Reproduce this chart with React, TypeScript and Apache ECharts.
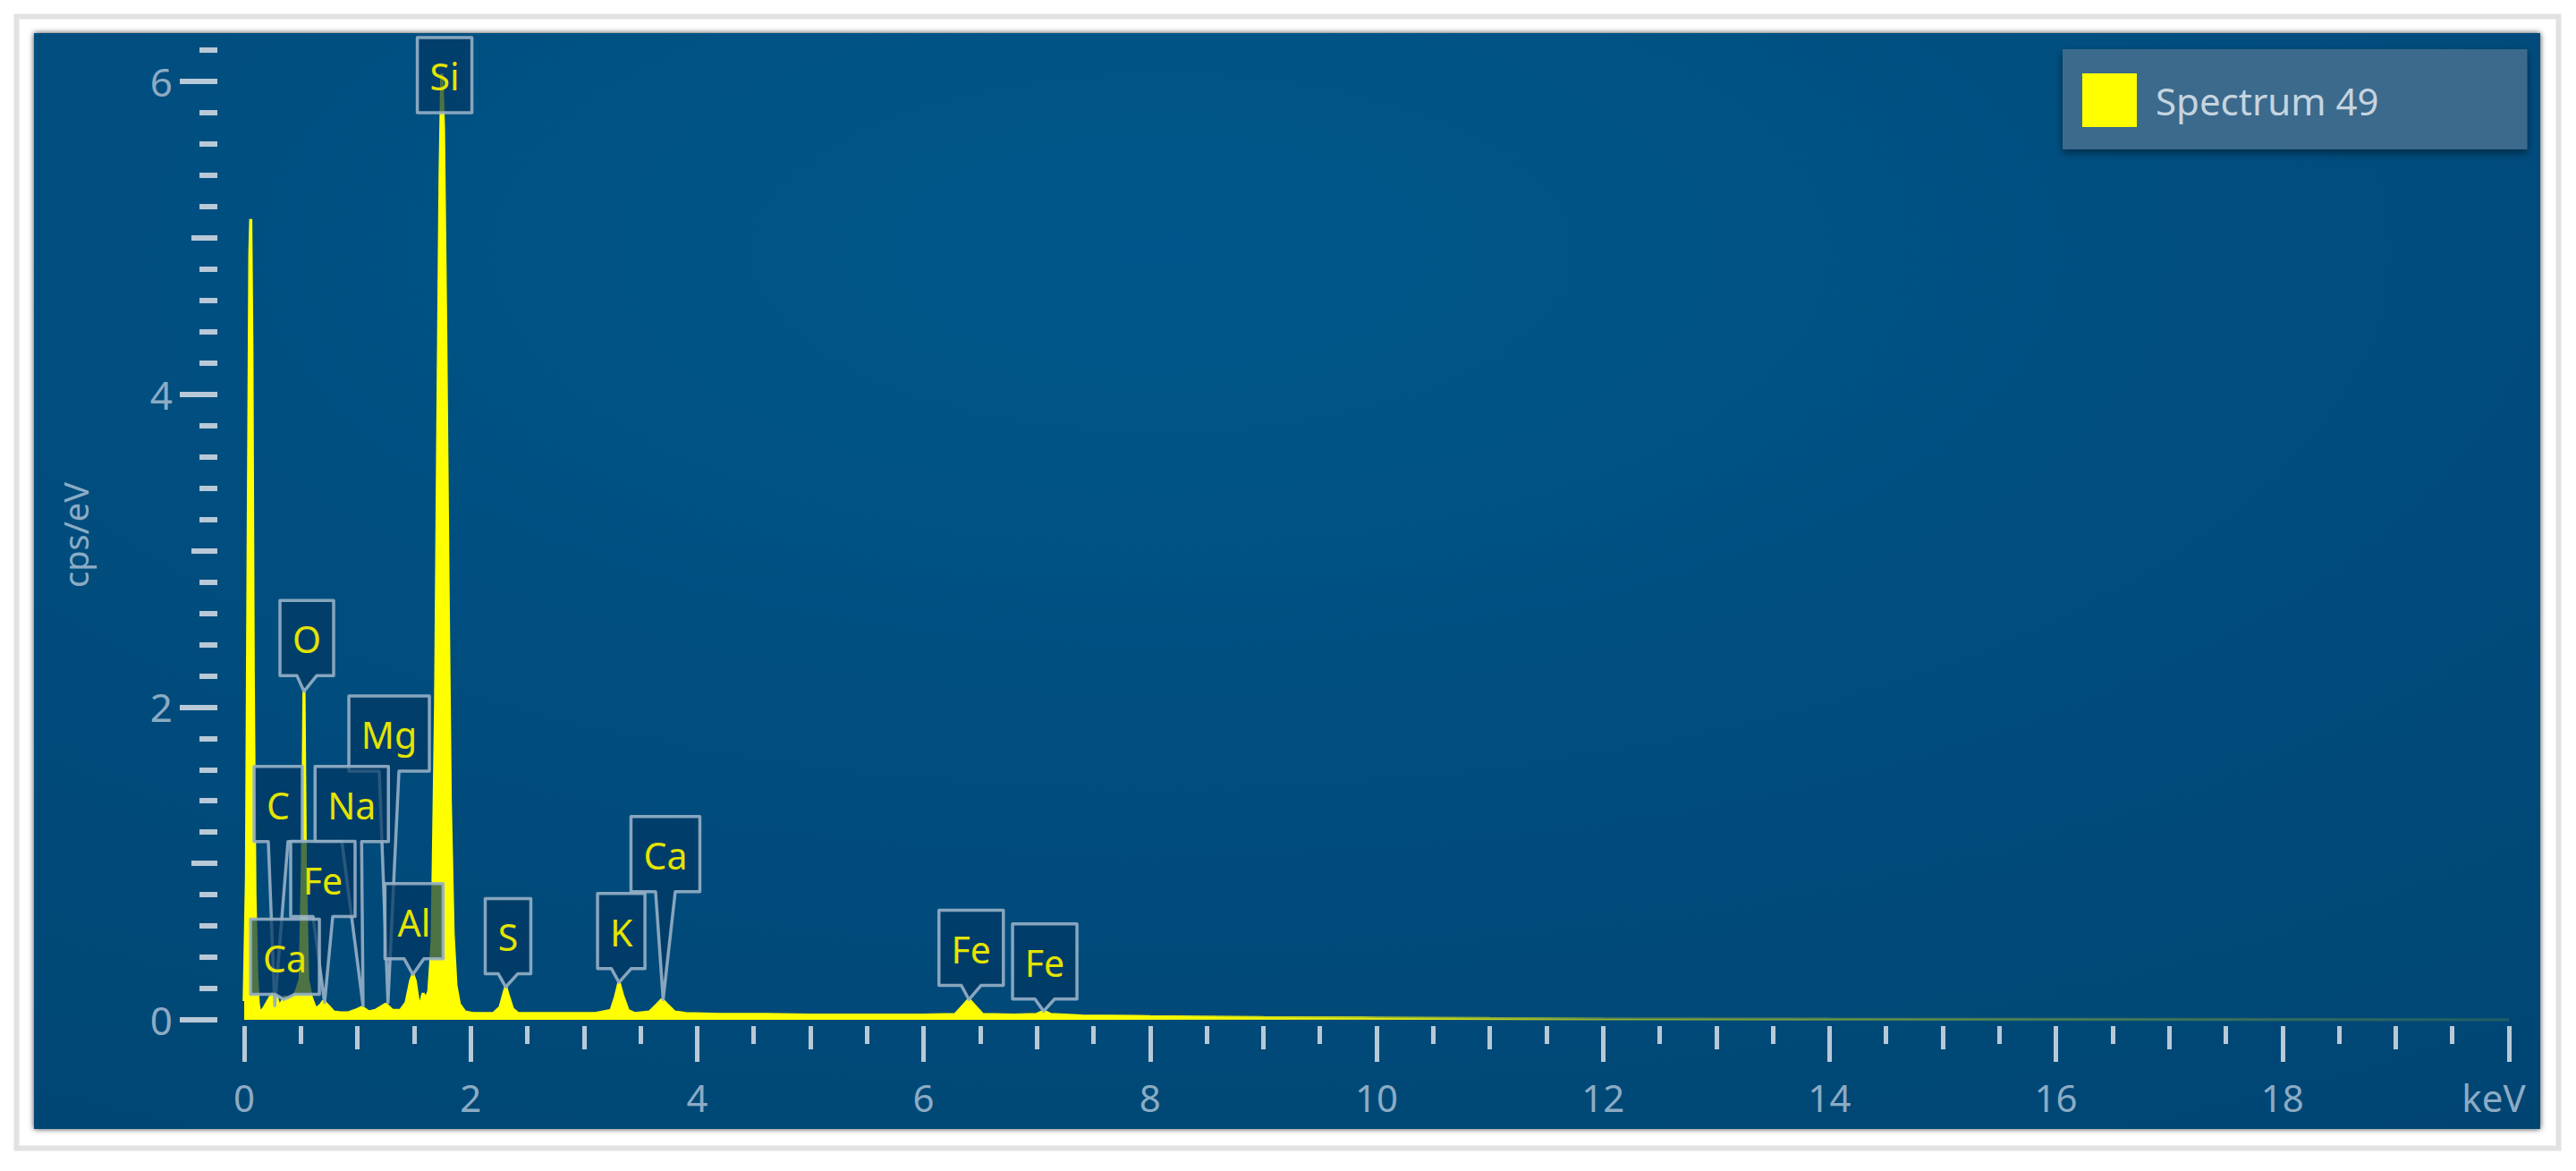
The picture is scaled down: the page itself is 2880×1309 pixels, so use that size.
import React, { useEffect, useRef } from "react";
import * as echarts from "echarts";

// ---- Spectrum (energy in keV, intensity in cps/eV) ----
const energyKeV = [
  0.0, 0.02, 0.035, 0.05, 0.058, 0.068, 0.08, 0.095, 0.11, 0.125, 0.14, 0.17, 0.21, 0.25, 0.28,
  0.31, 0.33, 0.36, 0.39, 0.42, 0.46, 0.495, 0.515, 0.528, 0.54, 0.56, 0.59, 0.63, 0.67, 0.7,
  0.74, 0.79, 0.85, 0.92, 0.98, 1.04, 1.1, 1.16, 1.25, 1.31, 1.38, 1.43, 1.47, 1.49, 1.51,
  1.54, 1.56, 1.58, 1.6, 1.63, 1.66, 1.69, 1.71, 1.73, 1.745, 1.76, 1.78, 1.8, 1.82, 1.845,
  1.87, 1.9, 1.95, 2.02, 2.2, 2.26, 2.29, 2.31, 2.33, 2.37, 2.42, 2.6, 2.9, 3.1, 3.24,
  3.28, 3.31, 3.34, 3.39, 3.45, 3.58, 3.65, 3.69, 3.73, 3.8, 3.9, 4.2, 4.6, 5.0, 5.5,
  6.0, 6.28, 6.35, 6.4, 6.45, 6.52, 6.8, 7.0, 7.06, 7.12, 7.4, 8.0, 9.0, 10.0, 11.0,
  12.0, 14.0, 16.0, 18.0, 20.0,
];
const countsCps = [
  0.12, 0.9, 3.0, 4.9, 5.12, 4.3, 2.2, 0.8, 0.3, 0.1, 0.04, 0.07, 0.12, 0.17, 0.16,
  0.08, 0.11, 0.15, 0.12, 0.14, 0.18, 0.26, 1.0, 2.1, 1.0, 0.26, 0.15, 0.07, 0.09, 0.12,
  0.09, 0.05, 0.045, 0.045, 0.06, 0.08, 0.05, 0.06, 0.1, 0.06, 0.06, 0.11, 0.25, 0.29, 0.25,
  0.1, 0.11, 0.17, 0.13, 0.18, 0.5, 2.0, 3.8, 5.4, 6.05, 5.7, 4.4, 2.8, 1.4, 0.55,
  0.22, 0.1, 0.05, 0.04, 0.04, 0.08, 0.16, 0.21, 0.16, 0.07, 0.04, 0.04, 0.04, 0.04, 0.06,
  0.15, 0.24, 0.16, 0.06, 0.04, 0.05, 0.1, 0.13, 0.1, 0.05, 0.04, 0.035, 0.035, 0.03, 0.03,
  0.03, 0.035, 0.09, 0.13, 0.09, 0.035, 0.03, 0.035, 0.055, 0.035, 0.025, 0.02, 0.015, 0.012, 0.008,
  0.006, 0.004, 0.003, 0.002, 0.0,
];

// ---- Peak labels: element, peak position (tip) and label anchor (box bottom centre) ----
const peakNames = ["Si", "O", "Mg", "C", "Na", "Fe", "Ca", "Al", "S", "K", "Ca", "Fe", "Fe"];
const peakEnergy = [1.745, 0.528, 1.27, 0.27, 1.05, 0.71, 0.35, 1.49, 2.31, 3.31, 3.7, 6.4, 7.06];
const peakHeight = [6.05, 2.1, 0.11, 0.09, 0.09, 0.11, 0.13, 0.29, 0.21, 0.24, 0.13, 0.13, 0.055];
const labelEnergy = [1.77, 0.553, 1.28, 0.3, 0.95, 0.695, 0.36, 1.5, 2.33, 3.33, 3.72, 6.42, 7.07];
const labelBase = [5.8, 2.2, 1.59, 1.14, 1.14, 0.66, 0.163, 0.39, 0.295, 0.327, 0.82, 0.22, 0.133];

// ---- Axis ticks ----
const xMajorTicks = [0, 2, 4, 6, 8, 10, 12, 14, 16, 18, 20];
const xMidTicks = [1, 3, 5, 7, 9, 11, 13, 15, 17, 19];
const xMinorTicks = [0.5, 1.5, 2.5, 3.5, 4.5, 5.5, 6.5, 7.5, 8.5, 9.5, 10.5, 11.5, 12.5, 13.5, 14.5, 15.5, 16.5, 17.5, 18.5, 19.5];
const yMajorTicks = [0, 2, 4, 6];
const yMidTicks = [1, 3, 5];
const yMinorTicks = [
  0.2, 0.4, 0.6, 0.8, 1.2, 1.4, 1.6, 1.8, 2.2, 2.4, 2.6, 2.8, 3.2, 3.4, 3.6, 3.8,
  4.2, 4.4, 4.6, 4.8, 5.2, 5.4, 5.6, 5.8, 6.2,
];
const seriesName = "Spectrum 49";
const xUnitLabel = "keV";
const yName = "cps/eV";

const FONT = "Noto Sans";
const LABEL_COLOR = "#8cabc4";
const TICK_COLOR = "#b8c9d7";
const YELLOW = "#ffff00";

let measureCtx: CanvasRenderingContext2D | null = null;
function textWidth(t: string, size: number) {
  if (!measureCtx) measureCtx = document.createElement("canvas").getContext("2d");
  if (!measureCtx) return t.length * size * 0.6;
  measureCtx.font = `${size}px "${FONT}"`;
  return measureCtx.measureText(t).width;
}

function makeXAxis(ticks: number[], len: number, withLabels: boolean) {
  return {
    type: "value",
    min: 0,
    max: 20,
    position: "bottom",
    offset: 7,
    axisLine: { show: false, onZero: false },
    splitLine: { show: false },
    axisTick: {
      show: true,
      length: len,
      customValues: ticks,
      lineStyle: { color: TICK_COLOR, width: 5 },
    },
    axisLabel: withLabels
      ? {
          show: true,
          customValues: ticks,
          margin: 58,
          color: LABEL_COLOR,
          fontSize: 42,
          fontFamily: FONT,
          formatter: (v: number) => (v === 20 ? `{u|${xUnitLabel}}` : String(v)),
          rich: {
            u: { color: LABEL_COLOR, fontSize: 42, fontFamily: FONT, padding: [0, 34, 0, 0] },
          },
        }
      : { show: false },
  };
}

function makeYAxis(ticks: number[], len: number, withLabels: boolean) {
  const base: any = {
    type: "value",
    min: 0,
    max: 6.2,
    position: "left",
    offset: 30,
    axisLine: { show: false, onZero: false },
    splitLine: { show: false },
    axisTick: {
      show: true,
      length: len,
      customValues: ticks,
      lineStyle: { color: TICK_COLOR, width: 6 },
    },
    axisLabel: withLabels
      ? {
          show: true,
          customValues: ticks,
          margin: 50,
          color: LABEL_COLOR,
          fontSize: 44,
          fontFamily: FONT,
        }
      : { show: false },
  };
  if (withLabels) {
    base.name = yName;
    base.nameLocation = "middle";
    base.nameGap = 140;
    base.nameTextStyle = { color: LABEL_COLOR, fontSize: 38, fontFamily: FONT };
  }
  return base;
}

export default function App() {
  const ref = useRef<HTMLDivElement>(null);

  useEffect(() => {
    if (!ref.current) return;
    const chart = echarts.init(ref.current, undefined, { renderer: "svg" });

    const spectrum = energyKeV.map((e, i) => [e, countsCps[i]]);
    const labels = peakNames.map((_, i) => [peakEnergy[i], peakHeight[i], labelEnergy[i], labelBase[i]]);

    const renderLabel = (params: any, api: any) => {
      const i = params.dataIndex;
      const name = peakNames[i];
      const tip = api.coord([api.value(0), api.value(1)]);
      const base = api.coord([api.value(2), api.value(3)]);
      const w = Math.round(textWidth(name, 41) + 28);
      const h = 84;
      const cx = base[0];
      const bottom = base[1];
      const top = bottom - h;
      const left = cx - w / 2;
      const right = cx + w / 2;
      const hw = Math.min(11, w / 2 - 4);
      const pts: number[][] = [
        [left, top],
        [right, top],
        [right, bottom],
      ];
      if (tip[1] > bottom + 2) {
        pts.push([cx + hw, bottom], [tip[0], tip[1]], [cx - hw, bottom]);
      }
      pts.push([left, bottom]);
      return {
        type: "group",
        children: [
          {
            type: "polygon",
            shape: { points: pts },
            style: {
              fill: "rgba(2,56,98,0.7)",
              stroke: "rgba(150,176,198,0.9)",
              lineWidth: 3.5,
              lineJoin: "round",
            },
          },
          {
            type: "text",
            style: {
              text: name,
              x: cx,
              y: top + h / 2 + 1,
              align: "center",
              verticalAlign: "middle",
              fill: "#e4e400",
              fontSize: 41,
              fontFamily: FONT,
            },
          },
        ],
      };
    };

    // yellow that fades out towards high energies, like the original trace
    const fadingYellow = {
      type: "linear",
      x: 0,
      y: 0,
      x2: 1,
      y2: 0,
      colorStops: [
        { offset: 0, color: "rgba(255,255,0,1)" },
        { offset: 0.38, color: "rgba(255,255,0,1)" },
        { offset: 0.6, color: "rgba(255,255,0,0.35)" },
        { offset: 1, color: "rgba(255,255,0,0.12)" },
      ],
    };

    chart.setOption({
      animation: false,
      backgroundColor: "#ffffff",
      graphic: {
        elements: [
          {
            type: "rect",
            z: -20,
            silent: true,
            shape: { x: 18.5, y: 18.5, width: 2842, height: 1265 },
            style: { fill: "#ffffff", stroke: "#e2e2e2", lineWidth: 6 },
          },
          {
            type: "rect",
            z: -19,
            silent: true,
            shape: { x: 38, y: 37, width: 2802, height: 1225 },
            style: {
              fill: {
                type: "radial",
                x: 0.45,
                y: 0.2,
                r: 1.3,
                colorStops: [
                  { offset: 0, color: "#05578a" },
                  { offset: 1, color: "#003e6a" },
                ],
              },
              shadowBlur: 6,
              shadowColor: "rgba(0,0,0,0.75)",
            },
          },
        ],
      },
      legend: {
        show: true,
        left: 2306,
        top: 55,
        selectedMode: false,
        backgroundColor: "#3b6a8d",
        padding: [27, 166, 25, 22],
        itemWidth: 61,
        itemHeight: 60,
        shadowBlur: 10,
        shadowColor: "rgba(0,0,0,0.45)",
        shadowOffsetY: 4,
        data: [{ name: seriesName, icon: "rect", itemStyle: { color: YELLOW } }],
        textStyle: {
          color: "#c6d4df",
          fontSize: 42,
          fontFamily: FONT,
          padding: [0, 0, 0, 16],
        },
      },
      grid: { left: 273, top: 56, width: 2532, height: 1084, containLabel: false },
      xAxis: [
        makeXAxis(xMajorTicks, 40, true),
        makeXAxis(xMidTicks, 26, false),
        makeXAxis(xMinorTicks, 20, false),
      ],
      yAxis: [
        makeYAxis(yMajorTicks, 42, true),
        makeYAxis(yMidTicks, 29, false),
        makeYAxis(yMinorTicks, 20, false),
      ],
      series: [
        {
          type: "line",
          name: seriesName,
          data: spectrum,
          xAxisIndex: 0,
          yAxisIndex: 0,
          symbol: "none",
          showSymbol: false,
          silent: true,
          z: 3,
          lineStyle: { color: fadingYellow, width: 3.5 },
          itemStyle: { color: YELLOW },
          areaStyle: { color: fadingYellow, opacity: 1 },
        },
        {
          type: "custom",
          name: "labels",
          data: labels,
          xAxisIndex: 0,
          yAxisIndex: 0,
          silent: true,
          z: 5,
          clip: false,
          renderItem: renderLabel,
        },
      ],
    });

    return () => chart.dispose();
  }, []);

  return (
    <div
      ref={ref}
      style={{ position: "absolute", left: 0, top: 0, width: 2880, height: 1309 }}
    />
  );
}
